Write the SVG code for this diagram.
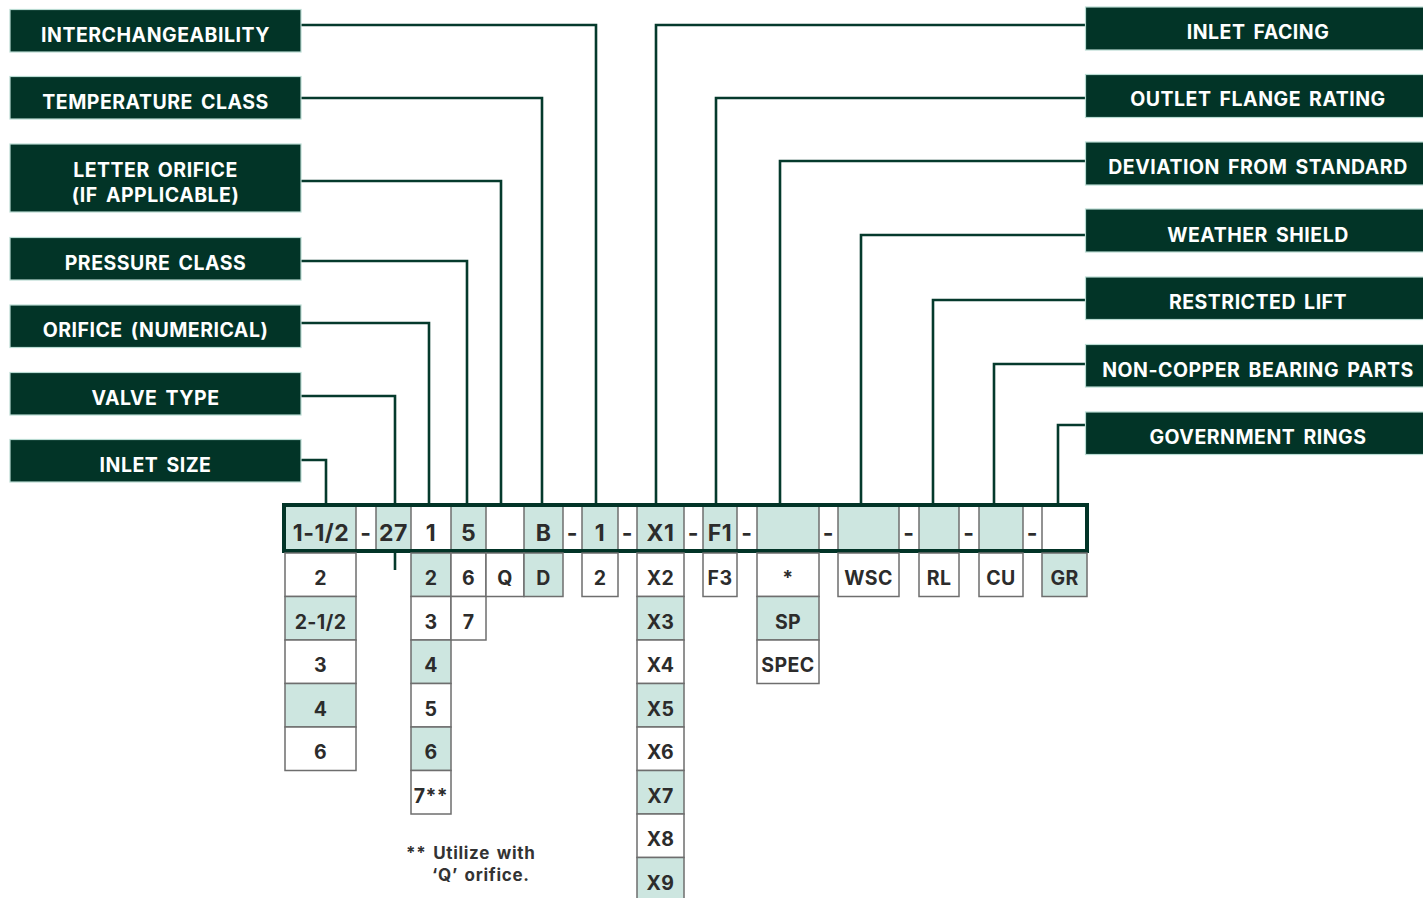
<svg xmlns="http://www.w3.org/2000/svg" width="1423" height="898" viewBox="0 0 1423 898">
<style>
.lbl rect{fill:#023427;stroke:#b9dbd2;stroke-width:1.2}
.lbl text{fill:#ffffff;font-family:Inter,"Noto Sans",sans-serif;font-weight:700;font-size:19.5px;text-anchor:middle;letter-spacing:0.5px;word-spacing:3px}
.con{fill:none;stroke:#053a2c;stroke-width:2.6}
.cell{stroke:#6e6e6e;stroke-width:1.5}
.t{fill:#cde6e0}
.w{fill:#ffffff}
.ct{fill:#2c2c2c;font-family:Inter,"Noto Sans",sans-serif;font-weight:700;font-size:19.5px;text-anchor:middle;letter-spacing:0.4px}
.bt{fill:#2c2c2c;font-family:Inter,"Noto Sans",sans-serif;font-weight:700;font-size:23px;text-anchor:middle;letter-spacing:0.5px}
.div{stroke:#6e6e6e;stroke-width:1.5}
.note{fill:#333333;font-family:Inter,"Noto Sans",sans-serif;font-weight:700;font-size:17px;letter-spacing:0.7px;word-spacing:2px}
</style>
<rect width="1423" height="898" fill="#ffffff"/>
<!-- connectors -->
<g id="connectors">
<polyline class="con" points="301,25 596,25 596,503"/>
<polyline class="con" points="301,98 542,98 542,503"/>
<polyline class="con" points="301,181 501,181 501,503"/>
<polyline class="con" points="301,261 467,261 467,503"/>
<polyline class="con" points="301,323 429,323 429,503"/>
<polyline class="con" points="301,396 395,396 395,503"/>
<line class="con" x1="395" y1="553" x2="395" y2="570"/>
<polyline class="con" points="301,460 326,460 326,503"/>
<polyline class="con" points="1085,25 656,25 656,503"/>
<polyline class="con" points="1085,98 716,98 716,503"/>
<polyline class="con" points="1085,161 780,161 780,503"/>
<polyline class="con" points="1085,235 861,235 861,503"/>
<polyline class="con" points="1085,300 933,300 933,503"/>
<polyline class="con" points="1085,364 994,364 994,503"/>
<polyline class="con" points="1085,425 1058,425 1058,503"/>
</g>
<!-- left labels -->
<g id="n-interchangeability" class="lbl"><rect x="10" y="9.5" width="291" height="42.5"/><text x="155.5" y="41.5">INTERCHANGEABILITY</text></g>
<g id="n-temperature" class="lbl"><rect x="10" y="76.5" width="291" height="42.5"/><text x="155.5" y="108.5">TEMPERATURE CLASS</text></g>
<g id="n-letter-orifice" class="lbl"><rect x="10" y="144" width="291" height="68"/><text x="155.5" y="176.5">LETTER ORIFICE</text><text x="155.5" y="201.5">(IF APPLICABLE)</text></g>
<g id="n-pressure" class="lbl"><rect x="10" y="237.5" width="291" height="42.5"/><text x="155.5" y="269.5">PRESSURE CLASS</text></g>
<g id="n-orifice-num" class="lbl"><rect x="10" y="305" width="291" height="42.5"/><text x="155.5" y="336.5">ORIFICE (NUMERICAL)</text></g>
<g id="n-valve-type" class="lbl"><rect x="10" y="372.5" width="291" height="42.5"/><text x="155.5" y="404.5">VALVE TYPE</text></g>
<g id="n-inlet-size" class="lbl"><rect x="10" y="439.5" width="291" height="42.5"/><text x="155.5" y="471.5">INLET SIZE</text></g>
<!-- right labels -->
<g id="n-inlet-facing" class="lbl"><rect x="1085.5" y="7" width="346" height="43"/><text x="1258" y="38.5">INLET FACING</text></g>
<g id="n-outlet-flange" class="lbl"><rect x="1085.5" y="74.5" width="346" height="43"/><text x="1258" y="106">OUTLET FLANGE RATING</text></g>
<g id="n-deviation" class="lbl"><rect x="1085.5" y="142" width="346" height="43"/><text x="1258" y="173.5">DEVIATION FROM STANDARD</text></g>
<g id="n-weather-shield" class="lbl"><rect x="1085.5" y="209" width="346" height="43"/><text x="1258" y="241.5">WEATHER SHIELD</text></g>
<g id="n-restricted-lift" class="lbl"><rect x="1085.5" y="277" width="346" height="42.5"/><text x="1258" y="308.5">RESTRICTED LIFT</text></g>
<g id="n-non-copper" class="lbl"><rect x="1085.5" y="344.5" width="346" height="42.5"/><text x="1258" y="376.5">NON-COPPER BEARING PARTS</text></g>
<g id="n-government" class="lbl"><rect x="1085.5" y="412" width="346" height="42.5"/><text x="1258" y="444">GOVERNMENT RINGS</text></g>
<!-- code bar -->
<g id="n-code-bar">
<rect x="284" y="505" width="803" height="46" fill="#ffffff"/>
<rect class="t" x="286" y="507" width="70" height="42"/>
<rect class="t" x="376" y="507" width="35" height="42"/>
<rect class="t" x="451" y="507" width="35" height="42"/>
<rect class="t" x="524" y="507" width="39" height="42"/>
<rect class="t" x="582" y="507" width="36" height="42"/>
<rect class="t" x="637" y="507" width="47" height="42"/>
<rect class="t" x="703" y="507" width="34" height="42"/>
<rect class="t" x="757" y="507" width="62" height="42"/>
<rect class="t" x="838" y="507" width="61" height="42"/>
<rect class="t" x="919" y="507" width="40" height="42"/>
<rect class="t" x="979" y="507" width="44" height="42"/>
<g class="div">
<line x1="356" y1="503" x2="356" y2="553"/><line x1="376" y1="503" x2="376" y2="553"/><line x1="411" y1="503" x2="411" y2="553"/><line x1="451" y1="503" x2="451" y2="553"/><line x1="486" y1="503" x2="486" y2="553"/><line x1="524" y1="503" x2="524" y2="553"/><line x1="563" y1="503" x2="563" y2="553"/><line x1="582" y1="503" x2="582" y2="553"/><line x1="618" y1="503" x2="618" y2="553"/><line x1="637" y1="503" x2="637" y2="553"/><line x1="684" y1="503" x2="684" y2="553"/><line x1="703" y1="503" x2="703" y2="553"/><line x1="737" y1="503" x2="737" y2="553"/><line x1="757" y1="503" x2="757" y2="553"/><line x1="819" y1="503" x2="819" y2="553"/><line x1="838" y1="503" x2="838" y2="553"/><line x1="899" y1="503" x2="899" y2="553"/><line x1="919" y1="503" x2="919" y2="553"/><line x1="959" y1="503" x2="959" y2="553"/><line x1="979" y1="503" x2="979" y2="553"/><line x1="1023" y1="503" x2="1023" y2="553"/><line x1="1042" y1="503" x2="1042" y2="553"/>
</g>
<rect x="284" y="505" width="803" height="46" fill="none" stroke="#023427" stroke-width="4"/>
<text class="bt" x="321" y="540.5">1-1/2</text>
<text class="bt" x="366" y="540.5">-</text>
<text class="bt" x="393.5" y="540.5">27</text>
<text class="bt" x="431" y="540.5">1</text>
<text class="bt" x="468.5" y="540.5">5</text>
<text class="bt" x="543.5" y="540.5">B</text>
<text class="bt" x="572.5" y="540.5">-</text>
<text class="bt" x="600" y="540.5">1</text>
<text class="bt" x="627.5" y="540.5">-</text>
<text class="bt" x="660.5" y="540.5">X1</text>
<text class="bt" x="693.5" y="540.5">-</text>
<text class="bt" x="720" y="540.5">F1</text>
<text class="bt" x="747" y="540.5">-</text>
<text class="bt" x="828.5" y="540.5">-</text>
<text class="bt" x="909" y="540.5">-</text>
<text class="bt" x="969" y="540.5">-</text>
<text class="bt" x="1032.5" y="540.5">-</text>
</g>
<!-- option columns -->
<g id="n-col-inlet-size">
<rect class="cell w" x="285" y="553" width="71" height="43.5"/><text class="ct" x="320.5" y="585">2</text>
<rect class="cell t" x="285" y="596.5" width="71" height="43.5"/><text class="ct" x="320.5" y="628.5">2-1/2</text>
<rect class="cell w" x="285" y="640" width="71" height="43.5"/><text class="ct" x="320.5" y="672">3</text>
<rect class="cell t" x="285" y="683.5" width="71" height="43.5"/><text class="ct" x="320.5" y="715.5">4</text>
<rect class="cell w" x="285" y="727" width="71" height="43.5"/><text class="ct" x="320.5" y="759">6</text>
</g>
<g id="n-col-orifice-num">
<rect class="cell t" x="411" y="553" width="40" height="43.5"/><text class="ct" x="431" y="585">2</text>
<rect class="cell w" x="411" y="596.5" width="40" height="43.5"/><text class="ct" x="431" y="628.5">3</text>
<rect class="cell t" x="411" y="640" width="40" height="43.5"/><text class="ct" x="431" y="672">4</text>
<rect class="cell w" x="411" y="683.5" width="40" height="43.5"/><text class="ct" x="431" y="715.5">5</text>
<rect class="cell t" x="411" y="727" width="40" height="43.5"/><text class="ct" x="431" y="759">6</text>
<rect class="cell w" x="411" y="770.5" width="40" height="43.5"/><text class="ct" x="431" y="802.5">7**</text>
</g>
<g id="n-col-pressure">
<rect class="cell w" x="451" y="553" width="35" height="43.5"/><text class="ct" x="468.5" y="585">6</text>
<rect class="cell w" x="451" y="596.5" width="35" height="43.5"/><text class="ct" x="468.5" y="628.5">7</text>
</g>
<g id="n-col-letter"><rect class="cell w" x="486" y="553" width="38" height="43.5"/><text class="ct" x="505" y="585">Q</text></g>
<g id="n-col-temp"><rect class="cell t" x="524" y="553" width="39" height="43.5"/><text class="ct" x="543.5" y="585">D</text></g>
<g id="n-col-inter"><rect class="cell w" x="582" y="553" width="36" height="43.5"/><text class="ct" x="600" y="585">2</text></g>
<g id="n-col-facing">
<rect class="cell w" x="637" y="553" width="47" height="43.5"/><text class="ct" x="660.5" y="585">X2</text>
<rect class="cell t" x="637" y="596.5" width="47" height="43.5"/><text class="ct" x="660.5" y="628.5">X3</text>
<rect class="cell w" x="637" y="640" width="47" height="43.5"/><text class="ct" x="660.5" y="672">X4</text>
<rect class="cell t" x="637" y="683.5" width="47" height="43.5"/><text class="ct" x="660.5" y="715.5">X5</text>
<rect class="cell w" x="637" y="727" width="47" height="43.5"/><text class="ct" x="660.5" y="759">X6</text>
<rect class="cell t" x="637" y="770.5" width="47" height="43.5"/><text class="ct" x="660.5" y="802.5">X7</text>
<rect class="cell w" x="637" y="814" width="47" height="43.5"/><text class="ct" x="660.5" y="846">X8</text>
<rect class="cell t" x="637" y="857.5" width="47" height="50"/><text class="ct" x="660.5" y="890">X9</text>
</g>
<g id="n-col-flange"><rect class="cell w" x="703" y="553" width="34" height="43.5"/><text class="ct" x="720" y="585">F3</text></g>
<g id="n-col-deviation">
<rect class="cell w" x="757" y="553" width="62" height="43.5"/><text class="ct" x="788" y="585">*</text>
<rect class="cell t" x="757" y="596.5" width="62" height="43.5"/><text class="ct" x="788" y="628.5">SP</text>
<rect class="cell w" x="757" y="640" width="62" height="43.5"/><text class="ct" x="788" y="672">SPEC</text>
</g>
<g id="n-col-weather"><rect class="cell w" x="838" y="553" width="61" height="43.5"/><text class="ct" x="868.5" y="585">WSC</text></g>
<g id="n-col-lift"><rect class="cell w" x="919" y="553" width="40" height="43.5"/><text class="ct" x="939" y="585">RL</text></g>
<g id="n-col-copper"><rect class="cell w" x="979" y="553" width="44" height="43.5"/><text class="ct" x="1001" y="585">CU</text></g>
<g id="n-col-rings"><rect class="cell t" x="1042" y="553" width="45" height="43.5"/><text class="ct" x="1064.5" y="585">GR</text></g>
<g id="n-footnote">
<text class="note" x="406" y="858.5">** Utilize with</text>
<text class="note" x="432" y="880.5">‘Q’ orifice.</text>
</g>
</svg>
